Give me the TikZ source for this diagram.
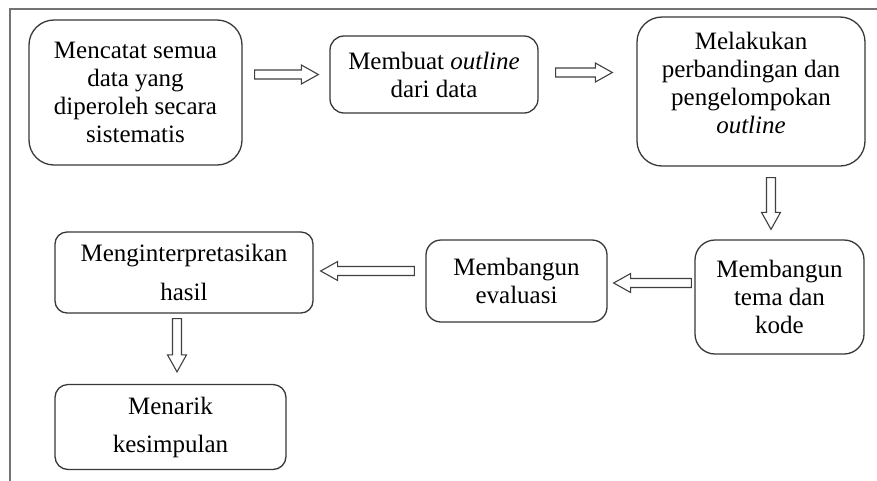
\documentclass[tikz,border=0pt]{standalone}
\usepackage{fontspec}
\setmainfont{Liberation Serif}
\usetikzlibrary{calc}
\tikzset{
  box/.style={draw=black!78, line width=1.3pt, align=center, inner sep=0pt,
    font=\fontsize{25}{28}\selectfont},
  blockarr/.style={draw=black!75, line width=1.1pt, fill=white, line join=miter},
  frameline/.style={draw=black!55, line width=2pt}
}
\newcommand\blockarrow[2]{%
  \draw[blockarr] let \p1=(#1), \p2=(#2), \n1={atan2(\y2-\y1,\x2-\x1)},
    \n2={veclen(\x2-\x1,\y2-\y1)} in
    {[shift={(\p1)}, rotate=\n1] (0pt,-4.5pt) -- ({\n2-17pt},-4.5pt) -- ({\n2-17pt},-9.5pt)
      -- (\n2,0pt) -- ({\n2-17pt},9.5pt) -- ({\n2-17pt},4.5pt) -- (0pt,4.5pt) -- cycle};
}
\begin{document}
\begin{tikzpicture}[x=1pt,y=-1pt]
\useasboundingbox (0,0) rectangle (877,480);
\draw[frameline] (10,495) -- (10,9) -- (890,9);

\node[box, rounded corners=25pt, minimum width=213pt, minimum height=145pt] (b1) at (135.5,92.5)
  {Mencatat semua\\data yang\\diperoleh secara\\sistematis};
\node[box, rounded corners=14pt, minimum width=208pt, minimum height=77pt] (b2) at (434,74.5)
  {Membuat \textit{outline}\\dari data};
\node[box, rounded corners=25pt, minimum width=228pt, minimum height=149pt, text depth=18pt] (b3) at (751,91.5)
  {Melakukan\\perbandingan dan\\pengelompokan\\\textit{outline}};
\node[box, rounded corners=20pt, minimum width=169pt, minimum height=114pt] (b4) at (779.5,297)
  {Membangun\\tema dan\\kode};
\node[box, rounded corners=15pt, minimum width=181pt, minimum height=82pt] (b5) at (516.5,281)
  {Membangun\\evaluasi};
\node[box, rounded corners=12pt, minimum width=258pt, minimum height=81pt] (b6) at (184,272.5)
  {Menginterpretasikan\\[11pt]hasil};
\node[box, rounded corners=13pt, minimum width=231pt, minimum height=85pt] (b7) at (170.5,427)
  {Menarik\\[10pt]kesimpulan};

\coordinate (a1s) at ($(b1.east |- b2.west)+(12,0)$);
\coordinate (a1e) at ($(b2.west)+(-11,0)$);
\coordinate (a2s) at ($(b2.east)+(17,-2)$);
\coordinate (a2e) at ($(b3.west |- b2.east)+(-24,-2)$);
\coordinate (a3s) at ($(b3.south)+(20,11)$);
\coordinate (a3e) at ($(b4.north -| a3s)+(0,-10)$);
\coordinate (a4s) at ($(b4.west)+(-3,-14)$);
\coordinate (a4e) at ($(b5.east |- a4s)+(6,0)$);
\coordinate (a5s) at ($(b5.west)+(-11,-10)$);
\coordinate (a5e) at ($(b6.east |- a5s)+(7,0)$);
\coordinate (a6s) at ($(b6.south)+(-7,5)$);
\coordinate (a6e) at ($(b7.north -| a6s)+(0,-12)$);

\blockarrow{a1s}{a1e}
\blockarrow{a2s}{a2e}
\blockarrow{a3s}{a3e}
\blockarrow{a4s}{a4e}
\blockarrow{a5s}{a5e}
\blockarrow{a6s}{a6e}
\end{tikzpicture}
\end{document}
